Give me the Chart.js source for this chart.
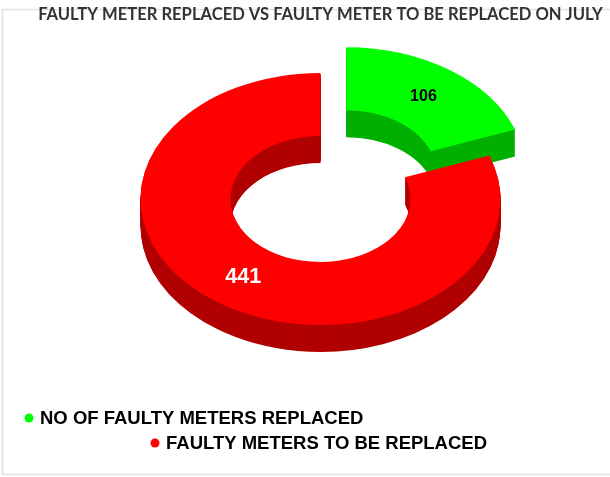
<!DOCTYPE html>
<html lang="en">
<head>
    <meta charset="UTF-8">
    <title>Faulty meters</title>
    <script src="https://cdn.jsdelivr.net/npm/chart.js"></script>
    <style>
        body { margin: 0; background: #fff; }
        canvas { display: block; }
    </style>
</head>
<body>
    <canvas id="chart" width="610" height="477"></canvas>

    <script>
        const titleText = 'FAULTY METER REPLACED VS FAULTY METER TO BE REPLACED ON JULY';
        const categories = ['NO OF FAULTY METERS REPLACED', 'FAULTY METERS TO BE REPLACED'];
        const values = [106, 441];
        const topColors = ['#00ff00', '#ff0000'];
        const sideColors = ['#00b000', '#b00000'];
        const labelColors = ['#000000', '#ffffff'];
        const labelFonts = ['bold 16px "Liberation Sans"', 'bold 21.5px "Liberation Sans"'];
        const explode = [45, 0];
        const legendPos = [[29, 418], [155, 443]];

        const squash = 0.7;   // tilt of the ring
        const depth = 27;     // height of the side wall in px

        // the frame behind everything
        const framePlugin = {
            id: 'frame',
            beforeDraw(chart) {
                const ctx = chart.ctx;
                ctx.save();
                ctx.strokeStyle = '#e2e2e2';
                ctx.lineWidth = 1.5;
                ctx.strokeRect(2.5, 9.5, 620, 465);
                ctx.restore();
            }
        };

        // fake 3D: squash the arcs, stack dark copies below, lit copy on top
        const pie3dPlugin = {
            id: 'pie3d',
            beforeDatasetDraw(chart, args) {
                const ctx = chart.ctx;
                const arcs = args.meta.data;
                arcs.forEach((arc, i) => {
                    const mid = (arc.startAngle + arc.endAngle) / 2;
                    const fill = arc.options.backgroundColor;
                    ctx.save();
                    ctx.translate(0, arc.y);
                    ctx.scale(1, squash);
                    ctx.translate(0, -arc.y);
                    ctx.translate(Math.cos(mid) * explode[i], Math.sin(mid) * explode[i]);
                    for (let d = depth; d >= 1; d--) {
                        ctx.save();
                        ctx.translate(0, d / squash);
                        arc.options.backgroundColor = sideColors[i];
                        arc.draw(ctx);
                        ctx.restore();
                    }
                    arc.options.backgroundColor = fill;
                    arc.draw(ctx);
                    ctx.restore();
                });
                return false;
            },
            afterDraw(chart) {
                const ctx = chart.ctx;
                const arcs = chart.getDatasetMeta(0).data;
                ctx.save();
                ctx.textAlign = 'center';
                ctx.textBaseline = 'middle';
                arcs.forEach((arc, i) => {
                    const p = arc.getCenterPoint();
                    const mid = (arc.startAngle + arc.endAngle) / 2;
                    const x = p.x + Math.cos(mid) * explode[i];
                    const y = arc.y + (p.y - arc.y + Math.sin(mid) * explode[i]) * squash;
                    ctx.font = labelFonts[i];
                    ctx.fillStyle = labelColors[i];
                    ctx.fillText(values[i], x, y + 1);
                });
                // legend
                ctx.textAlign = 'left';
                ctx.font = 'bold 18.5px "Liberation Sans"';
                categories.forEach((name, i) => {
                    const [x, y] = legendPos[i];
                    ctx.fillStyle = topColors[i];
                    ctx.beginPath();
                    ctx.arc(x, y, 4.5, 0, Math.PI * 2);
                    ctx.fill();
                    ctx.fillStyle = '#000000';
                    ctx.fillText(name, x + 11, y + 1);
                });
                ctx.restore();
            }
        };

        new Chart(document.getElementById('chart'), {
            type: 'doughnut',
            data: {
                labels: categories,
                datasets: [{
                    data: values,
                    backgroundColor: topColors,
                    borderWidth: 0,
                    clip: false
                }]
            },
            options: {
                responsive: false,
                animation: false,
                radius: 180,
                cutout: '50%',
                layout: { padding: { left: 31, top: 0, right: 0, bottom: 103.92 } },
                plugins: {
                    legend: { display: false },
                    tooltip: { enabled: false },
                    title: {
                        display: true,
                        text: titleText,
                        color: '#333333',
                        font: { family: 'Lato', size: 16.6, weight: 'bold' },
                        padding: { top: 5, bottom: 0 }
                    }
                }
            },
            plugins: [framePlugin, pie3dPlugin]
        });
    </script>
</body>
</html>
